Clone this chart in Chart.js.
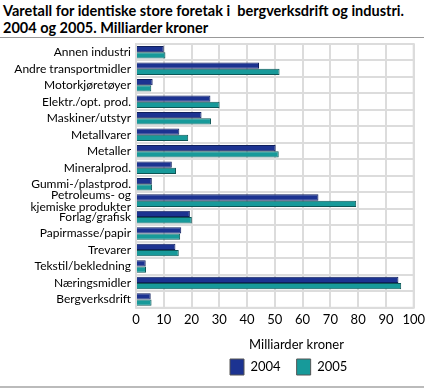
<!DOCTYPE html>
<html>
<head>
<meta charset="utf-8">
<script src="https://cdn.jsdelivr.net/npm/chart.js@4/dist/chart.umd.min.js"></script>
<style>
  body { margin: 0; background: #fff; }
  #wrap { position: relative; width: 429px; height: 388px; overflow: hidden; }
  #title { position: absolute; left: 3px; top: 2px; font: bold 14.5px Lato, sans-serif; line-height: 17px; color: #000; white-space: nowrap; }
  .rule { position: absolute; left: 0; width: 424px; height: 1px; background: #999; }
  #chartBox { position: absolute; left: 0; top: 0; width: 429px; height: 388px; }
</style>
</head>
<body>
<div id="wrap">
  <div id="title">Varetall for identiske store foretak i&nbsp; bergverksdrift og industri.<br>2004 og 2005. Milliarder kroner</div>
  <div class="rule" style="top:37px"></div>
  <div class="rule" style="top:386px; background:#bbb; height:2px"></div>
  <div id="chartBox"><canvas id="myChart"></canvas></div>
</div>
<script>
const categories = [
  'Annen industri', 'Andre transportmidler', 'Motorkjøretøyer', 'Elektr./opt. prod.',
  'Maskiner/utstyr', 'Metallvarer', 'Metaller', 'Mineralprod.', 'Gummi-/plastprod.',
  ['Petroleums- og', 'kjemiske produkter'], 'Forlag/grafisk', 'Papirmasse/papir',
  'Trevarer', 'Tekstil/bekledning', 'Næringsmidler', 'Bergverksdrift'
];
const values2004 = [10.0, 44.3, 6.0, 26.8, 23.6, 15.6, 50.3, 12.9, 5.7, 65.7, 19.4, 16.3, 14.2, 3.5, 94.5, 5.3];
const values2005 = [10.6, 51.7, 5.5, 30.1, 27.0, 18.8, 51.4, 14.4, 5.8, 79.3, 20.1, 15.9, 15.4, 3.6, 95.5, 5.6];
const xTicks = [0, 10, 20, 30, 40, 50, 60, 70, 80, 90, 100];

const fontFamily = 'Lato, sans-serif';
const pad = '\u00A0'.repeat(13);

const data = {
  labels: categories,
  datasets: [{
    label: '2004',
    data: values2004,
    backgroundColor: '#1c3391',
    borderColor: '#0f1f5c',
    borderWidth: 1,
    categoryPercentage: 0.76,
    barPercentage: 1.0
  }, {
    label: '2005',
    data: values2005,
    backgroundColor: '#179a9a',
    borderColor: '#0d5656',
    borderWidth: 1,
    categoryPercentage: 0.76,
    barPercentage: 1.0
  }]
};

const config = {
  type: 'bar',
  data,
  options: {
    indexAxis: 'y',
    responsive: false,
    animation: false,
    layout: { padding: { top: 44, right: 13, bottom: 3, left: 0 } },
    scales: {
      x: {
        min: 0,
        max: 100,
        afterBuildTicks: (scale) => { scale.ticks = xTicks.map(v => ({ value: v })); },
        grid: { color: '#dcdcdc', lineWidth: 2, drawTicks: false },
        border: { display: false },
        ticks: { color: '#000', font: { family: fontFamily, size: 13 }, padding: 4, maxRotation: 0, autoSkip: false },
        title: { display: true, text: pad + 'Milliarder kroner', color: '#000', font: { family: fontFamily, size: 13 }, padding: { top: 6, bottom: 0 } }
      },
      y: {
        afterFit: (scale) => { scale.width = 136; },
        grid: { color: '#dcdcdc', lineWidth: 2, offset: true, drawTicks: false },
        border: { display: false },
        ticks: { color: '#000', font: { family: fontFamily, size: 12, lineHeight: 1.0 }, padding: 5, autoSkip: false }
      }
    },
    plugins: {
      legend: {
        position: 'bottom',
        align: 'start',
        labels: {
          color: '#000',
          font: { family: fontFamily, size: 13 },
          boxWidth: 14,
          boxHeight: 16,
          padding: 6,
          generateLabels: (chart) => chart.data.datasets.map((ds, i) => ({
            text: ds.label + '\u00A0\u00A0\u00A0',
            fillStyle: ds.backgroundColor,
            strokeStyle: '#555',
            lineWidth: 1,
            datasetIndex: i
          }))
        }
      },
      tooltip: { enabled: false }
    }
  },
  plugins: [{
    id: 'shiftLegend',
    afterLayout: (chart) => {
      // move legend under the right part of the plot, as in the original
      const lg = chart.legend;
      const dx = 224 - lg.left;
      lg.left += dx;
      lg.right += dx;
    }
  }, {
    id: 'plotBorder',
    afterDraw: (chart) => {
      const { ctx, chartArea } = chart;
      ctx.save();
      ctx.strokeStyle = '#dcdcdc';
      ctx.lineWidth = 2;
      ctx.strokeRect(chartArea.left, chartArea.top, chartArea.right - chartArea.left, chartArea.bottom - chartArea.top);
      ctx.restore();
    }
  }]
};

const canvas = document.getElementById('myChart');
canvas.width = 429;
canvas.height = 388;
const myChart = new Chart(canvas, config);
</script>
</body>
</html>
